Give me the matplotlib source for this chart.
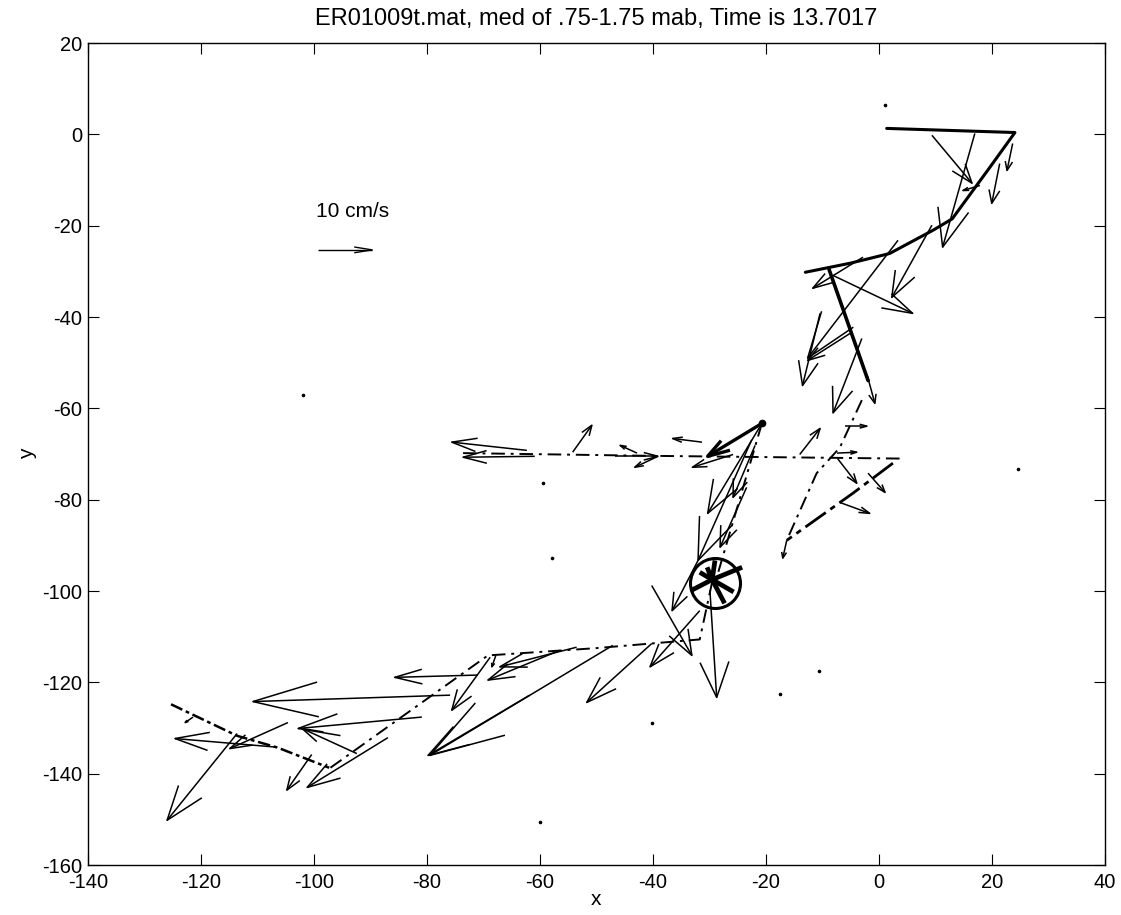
import matplotlib
matplotlib.use("Agg")
import matplotlib.pyplot as plt
from matplotlib.collections import LineCollection

plt.rcParams['font.family'] = ['Liberation Sans', 'DejaVu Sans']
plt.rcParams['axes.unicode_minus'] = False

# --- velocity arrows (tail position and vector, in plot units) ---
arrow_x = [9.4, 17.0, 23.7, 21.4, 17.9, 9.4, 3.4, -8.1, -2.8, -3.0, -10.4, -5.1, -2.0,
           -62.3, -60.9, -54.2, -42.8, -46.7, -39.1, -31.3, -25.8, -20.7, -21.9, -23.4, -22.5,
           -14.0, -6.0, -7.4, -7.3, -1.9, -6.9, -16.3,
           -29.9, -32.0, -40.2, -31.7, -40.2, -47.1, -53.5, -56.5, -68.8, -67.8, -71.0, -75.9,
           -80.9, -92.4, -86.9, -100.4, -104.6, -106.5, -113.6, -121.4, -61.8]
arrow_y = [-0.2, 0.2, -2.0, -6.4, -11.2, -19.9, -23.2, -30.9, -26.9, -44.7, -39.2, -43.6, -53.0,
           -69.2, -70.5, -69.6, -69.8, -70.5, -70.5, -67.4, -70.1, -63.3, -68.1, -77.3, -66.9,
           -70.1, -63.9, -69.8, -71.0, -74.2, -80.6, -88.9,
           -99.8, -93.3, -98.8, -104.3, -111.5, -111.9, -112.3, -113.0, -114.5, -114.1, -118.4, -122.8,
           -127.6, -135.6, -132.1, -135.8, -128.8, -134.2, -131.2, -127.6, -122.8]
arrow_u = [7.1, -5.7, -1.0, -1.4, -3.0, -7.1, -16.0, 14.1, -8.9, -5.1, -3.1, -7.5, 1.3,
           -13.3, -12.7, 3.4, -3.0, 7.6, -4.1, -5.2, -7.2, -9.6, -3.9, -4.7, -9.5,
           3.6, 3.9, 3.5, 3.4, 3.0, 5.3, -0.7,
           1.2, -4.6, 7.1, -8.8, -11.5, -32.4, -13.6, -12.7, -6.8, -0.7, -14.7, -34.9,
           -21.9, -9.7, -14.3, -4.4, -10.3, -18.1, -12.4, -1.4, -18.0]
arrow_v = [-10.5, -24.9, -5.9, -8.7, -1.1, -15.8, -25.8, -8.3, -6.8, -16.3, -15.8, -5.9, -5.9,
           1.8, -0.2, 5.9, 1.7, 0.0, -2.4, 0.8, -2.8, -19.7, -11.4, -13.1, -26.4,
           5.7, 0.0, 0.2, -5.4, -4.2, -2.4, -3.9,
           -23.5, -11.0, -15.3, -12.3, -12.9, -24.1, -4.3, -6.5, -11.6, -2.5, -0.5, -1.4,
           -2.5, 5.5, -10.9, -7.8, -5.7, 1.9, -19.0, -1.2, -13.2]

# heavy arrow leaving the station dot
heavy_x = [-20.7]
heavy_y = [-63.3]
heavy_u = [-9.6]
heavy_v = [-7.2]

# --- drifter tracks ---
track1_x = [1.4, 14.0, 24.1, 19.5, 13.0, 9.6, 1.9, -5.0, -13.0]
track1_y = [1.3, 0.8, 0.4, -7.5, -18.5, -21.0, -26.1, -28.2, -30.2]
track1b_x = [-8.8, -1.9]
track1b_y = [-29.6, -53.9]
track2_x = [-73.6, -40.0, 4.1]
track2_y = [-69.8, -70.4, -71.0]
track3_x = [-3.0, -6.9, -11.0, -16.3]
track3_y = [-58.2, -68.6, -74.2, -88.9]
track4_x = [2.5, -4.6, -16.3]
track4_y = [-72.0, -78.6, -88.9]
track5_x = [-20.7, -29.0]
track5_y = [-63.3, -98.3]
track6_x = [-29.5, -31.7, -50.0, -69.2, -97.2]
track6_y = [-98.0, -110.6, -112.5, -114.1, -138.8]
track7_x = [-125.3, -113.6, -106.4, -97.3]
track7_y = [-124.8, -131.7, -134.3, -138.7]

# station marker and the short heavy vectors inside it
station_x, station_y = -29.0, -98.3
spoke_x0, spoke_y0 = -29.5, -97.5
spoke_x = [-24.2, -25.7, -27.3, -33.1, -30.4, -29.0, -31.7]
spoke_y = [-94.8, -100.2, -102.7, -99.8, -94.8, -93.3, -95.9]

# start dot and small specks
dot_x, dot_y = [-20.7], [-63.3]
speck_x = [1.1, -60.0, -40.2, -10.5, -17.5, 24.6, -59.5, -57.8, -102.0]
speck_y = [6.4, -150.5, -128.8, -117.5, -122.5, -73.3, -76.4, -92.8, -57.0]

# scale arrow
scale_x, scale_y, scale_u = -99.3, -25.3, 9.6
scale_label = "10 cm/s"

title = "ER01009t.mat, med of .75-1.75 mab, Time is 13.7017"
xticks = [-140, -120, -100, -80, -60, -40, -20, 0, 20, 40]
yticks = [20, 0, -20, -40, -60, -80, -100, -120, -140, -160]


def quiver_segments(xs, ys, us, vs, alpha=0.33, beta=0.33):
    # MATLAB style open arrows: shaft plus two barbs
    segs = []
    for x, y, u, v in zip(xs, ys, us, vs):
        tx, ty = x + u, y + v
        segs.append([(x, y), (tx, ty)])
        b1 = (tx - alpha * (u + beta * v), ty - alpha * (v - beta * u))
        b2 = (tx - alpha * (u - beta * v), ty - alpha * (v + beta * u))
        segs.append([b1, (tx, ty), b2])
    return segs


fig = plt.figure(figsize=(11.21, 9.15), dpi=100)
ax = fig.add_axes([0.0785, 0.0546, 0.907, 0.8984])

# tracks
ax.plot(track1_x, track1_y, color='k', lw=2.2, solid_capstyle='round')
ax.plot(track1b_x, track1b_y, color='k', lw=2.6, solid_capstyle='round')
for tx, ty in [(track2_x, track2_y), (track3_x, track3_y), (track5_x, track5_y),
               (track6_x, track6_y)]:
    ax.plot(tx, ty, color='k', lw=1.4, dashes=(7, 3, 1.5, 3))
ax.plot(track4_x, track4_y, color='k', lw=2.0, dashes=(9, 2, 2, 2))
ax.plot(track7_x, track7_y, color='k', lw=1.8, dashes=(5, 1.5, 1.5, 1.5))

# arrows
ax.add_collection(LineCollection(quiver_segments(arrow_x, arrow_y, arrow_u, arrow_v),
                                 colors='k', linewidths=1.1))
ax.add_collection(LineCollection(quiver_segments(heavy_x, heavy_y, heavy_u, heavy_v),
                                 colors='k', linewidths=2.4))

# station
ax.plot(station_x, station_y, marker='o', markersize=36, markerfacecolor='none',
        markeredgecolor='k', markeredgewidth=2.2)
for sx, sy in zip(spoke_x, spoke_y):
    ax.plot([spoke_x0, sx], [spoke_y0, sy], color='k', lw=3.4, solid_capstyle='butt')

ax.plot(dot_x, dot_y, 'o', color='k', markersize=4.5)
ax.plot(speck_x, speck_y, 'o', color='k', markersize=1.6)

# scale arrow and label
ax.add_collection(LineCollection(quiver_segments([scale_x], [scale_y], [scale_u], [0.0],
                                                 alpha=0.33, beta=0.2),
                                 colors='k', linewidths=1.0))
ax.text(-99.6, -17.0, scale_label, fontsize=15, va='center', ha='left')

ax.set_xlim(-140, 40)
ax.set_ylim(-160, 20)
ax.set_xticks(xticks)
ax.set_yticks(yticks)
ax.tick_params(direction='in', top=True, right=True, length=8, width=0.8,
               labelsize=14.5, pad=4)
ax.tick_params(axis='x', pad=6)
for s in ax.spines.values():
    s.set_linewidth(1.0)
ax.set_title(title, fontsize=17, pad=13)
ax.set_xlabel('x', fontsize=15, labelpad=-2)
ax.set_ylabel('y', fontsize=15, labelpad=4)

fig.savefig('out.png', dpi=100)
